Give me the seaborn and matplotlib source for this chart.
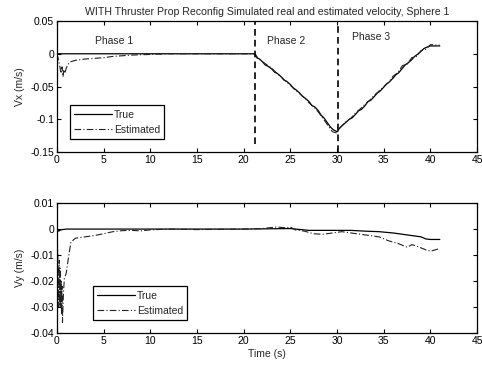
import numpy as np
import pandas as pd
import matplotlib
matplotlib.use("Agg")
import matplotlib.pyplot as plt
import seaborn as sns

# ---------------- data ----------------
t_vx_true = [0, 21.2, 21.4, 21.7, 22.0, 22.3, 22.6, 23.0, 23.3, 23.6, 24.0, 24.3, 24.6,
             25.0, 25.3, 25.6, 26.0, 26.3, 26.6, 27.0, 27.3, 27.6, 28.0, 28.3, 28.6,
             29.0, 29.3, 29.6, 30.0, 30.3, 30.6, 31.0, 31.3, 31.6, 32.0, 32.3, 32.6,
             33.0, 33.3, 33.6, 34.0, 34.3, 34.6, 35.0, 35.3, 35.6, 36.0, 36.3, 36.6,
             37.0, 37.3, 37.6, 38.0, 38.3, 38.6, 39.0, 39.3, 39.6, 40.0, 41.0]
vx_true = [0, 0, -0.006, -0.008, -0.012, -0.017, -0.019, -0.023, -0.028, -0.030, -0.035,
           -0.040, -0.042, -0.047, -0.052, -0.055, -0.060, -0.065, -0.068, -0.073, -0.079,
           -0.081, -0.087, -0.094, -0.098, -0.106, -0.112, -0.116, -0.119, -0.113, -0.109,
           -0.104, -0.100, -0.098, -0.092, -0.087, -0.085, -0.079, -0.073, -0.071, -0.065,
           -0.060, -0.057, -0.051, -0.046, -0.043, -0.037, -0.032, -0.029, -0.022, -0.017,
           -0.014, -0.009, -0.004, -0.001, 0.004, 0.008, 0.010, 0.012, 0.012]

t_vx_est = [0, 0.15, 0.3, 0.45, 0.55, 0.65, 0.75, 0.85, 1.0, 1.2, 1.5, 2.0, 3.0, 4.0,
            5.0, 6.0, 7.0, 8.0, 10.0, 12.0, 21.2, 21.5, 22.0, 22.5, 23.0, 23.5, 24.0,
            24.5, 25.0, 25.5, 26.0, 26.5, 27.0, 27.5, 28.0, 28.5, 29.0, 29.5, 30.0,
            30.3, 31.0, 31.5, 32.0, 32.5, 33.0, 33.5, 34.0, 34.5, 35.0, 35.5, 36.0,
            36.5, 37.0, 37.5, 38.0, 38.5, 39.0, 39.5, 40.0, 41.0]
vx_est = [0, -0.008, -0.018, -0.030, -0.020, -0.035, -0.024, -0.030, -0.022, -0.016,
          -0.012, -0.010, -0.008, -0.007, -0.006, -0.004, -0.003, -0.002, -0.001, 0.0,
          0.0, -0.006, -0.012, -0.017, -0.022, -0.029, -0.035, -0.042, -0.048, -0.055,
          -0.061, -0.067, -0.075, -0.081, -0.089, -0.099, -0.109, -0.119, -0.121, -0.113,
          -0.103, -0.098, -0.090, -0.084, -0.077, -0.071, -0.063, -0.057, -0.050, -0.044,
          -0.034, -0.029, -0.018, -0.016, -0.006, -0.004, 0.005, 0.007, 0.014, 0.013]

t_vy_true = [0, 0.2, 0.4, 1.0, 10.0, 20.0, 25.0, 27.0, 31.5, 33.0, 34.5, 36.0, 37.0,
             38.0, 39.0, 39.5, 40.0, 41.0]
vy_true = [0, -0.0008, -0.0003, 0, 0, 0, 0.0002, -0.0005, -0.0005, -0.0008, -0.001,
           -0.0015, -0.002, -0.0025, -0.003, -0.0038, -0.004, -0.004]

t_vy_est = [0, 0.1, 0.2, 0.25, 0.3, 0.35, 0.4, 0.45, 0.5, 0.55, 0.6, 0.7, 0.8, 1.0,
            1.2, 1.5, 2.0, 3.0, 4.0, 5.0, 6.0, 7.0, 8.0, 9.0, 10.0, 12.0, 15.0, 20.0,
            22.0, 23.5, 24.5, 25.0, 25.5, 26.5, 27.5, 28.5, 29.5, 30.5, 31.5, 32.5,
            33.5, 34.5, 35.5, 36.5, 37.5, 38.0, 38.5, 39.5, 40.0, 41.0]
vy_est = [0, -0.010, -0.030, -0.012, -0.029, -0.015, -0.030, -0.020, -0.033, -0.022,
          -0.036, -0.025, -0.019, -0.017, -0.012, -0.005, -0.0035, -0.003, -0.0025,
          -0.0018, -0.001, -0.0006, -0.0005, -0.0007, -0.0003, 0.0, -0.0002, 0.0,
          0.0002, 0.0008, 0.0005, 0.0008, -0.0003, -0.0008, -0.0018, -0.002, -0.0015,
          -0.001, -0.0015, -0.002, -0.0025, -0.003, -0.0045, -0.0055, -0.007, -0.006,
          -0.0065, -0.008, -0.0085, -0.0075]

phase_x = [21.2, 30.1]
phase_ymin = [-0.137, -0.15]
phase_labels = ["Phase 1", "Phase 2", "Phase 3"]
phase_label_x = [6.1, 24.5, 33.6]
phase_label_y = [0.02, 0.02, 0.025]

x_ticks = [0, 5, 10, 15, 20, 25, 30, 35, 40, 45]
vx_ticks = [0.05, 0, -0.05, -0.1, -0.15]
vx_ticklabels = ["0.05", "0", "-0.05", "-0.1", "-0.15"]
vy_ticks = [0.01, 0, -0.01, -0.02, -0.03, -0.04]
vy_ticklabels = ["0.01", "0", "-0.01", "-0.02", "-0.03", "-0.04"]

# ---------------- style ----------------
sns.set_theme(style="ticks")
plt.rcParams["font.family"] = ["Liberation Sans", "DejaVu Sans"]
plt.rcParams["xtick.direction"] = "in"
plt.rcParams["ytick.direction"] = "in"
plt.rcParams["xtick.top"] = True
plt.rcParams["ytick.right"] = True

fig = plt.figure(figsize=(4.82, 3.69), dpi=100)
ax1 = fig.add_axes([0.118, 0.588, 0.872, 0.355])
ax2 = fig.add_axes([0.118, 0.0976, 0.872, 0.352])

fs = 7.5

def style(ax, yticks, ylabels, ylim):
    ax.set_xlim(0, 45)
    ax.set_ylim(*ylim)
    ax.set_xticks(x_ticks)
    ax.set_xticklabels([str(v) for v in x_ticks], fontsize=fs)
    ax.set_yticks(yticks)
    ax.set_yticklabels(ylabels, fontsize=fs)
    ax.tick_params(length=3, width=0.8, pad=2, colors="black")
    for s in ax.spines.values():
        s.set_visible(True)
        s.set_color("black")
        s.set_linewidth(0.9)

sns.lineplot(x=t_vx_true, y=vx_true, ax=ax1, color="black", lw=0.9,
             sort=False, estimator=None, label="True")
sns.lineplot(x=t_vx_est, y=vx_est, ax=ax1, color="#222222", lw=0.8,
             sort=False, estimator=None, label="Estimated", linestyle=(0, (6, 2, 1, 2)))
ax1.vlines(phase_x, phase_ymin, 0.05, colors="black", linestyles=(0, (4, 2.5)), lw=1.2)
for lab, lx, ly in zip(phase_labels, phase_label_x, phase_label_y):
    ax1.text(lx, ly, lab, fontsize=fs, ha="center", va="center")
style(ax1, vx_ticks, vx_ticklabels, (-0.15, 0.05))
ax1.set_ylabel("Vx (m/s)", fontsize=fs, labelpad=4)
ax1.set_xlabel("")
ax1.set_title("WITH Thruster Prop Reconfig Simulated real and estimated velocity, Sphere 1",
              fontsize=7.6, pad=4)
leg1 = ax1.legend(loc="lower left", bbox_to_anchor=(0.031, 0.10), fontsize=fs,
                  fancybox=False, edgecolor="black", framealpha=1, handlelength=3.6,
                  borderpad=0.4, labelspacing=0.5, handletextpad=0.2, borderaxespad=0)
leg1.get_frame().set_linewidth(0.9)

sns.lineplot(x=t_vy_true, y=vy_true, ax=ax2, color="black", lw=0.9,
             sort=False, estimator=None, label="True")
sns.lineplot(x=t_vy_est, y=vy_est, ax=ax2, color="#222222", lw=0.8,
             sort=False, estimator=None, label="Estimated", linestyle=(0, (6, 2, 1, 2)))
style(ax2, vy_ticks, vy_ticklabels, (-0.04, 0.01))
ax2.set_ylabel("Vy (m/s)", fontsize=fs, labelpad=4)
ax2.set_xlabel("Time (s)", fontsize=fs, labelpad=2)
leg2 = ax2.legend(loc="lower left", bbox_to_anchor=(0.086, 0.10), fontsize=fs,
                  fancybox=False, edgecolor="black", framealpha=1, handlelength=3.6,
                  borderpad=0.4, labelspacing=0.5, handletextpad=0.2, borderaxespad=0)
leg2.get_frame().set_linewidth(0.9)

fig.savefig("out.png", dpi=100, facecolor="white")
